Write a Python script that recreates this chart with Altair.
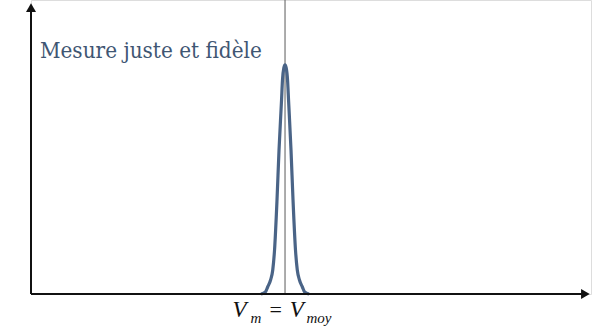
import altair as alt
import pandas as pd

# Distribution of repeated measurements (value, frequency)
curve_x = [41.06, 41.86, 42.26, 42.78, 43.17, 43.49, 43.93, 44.29, 44.74, 44.91, 45.15, 45.36,
           45.57, 45.81, 45.99, 46.43, 46.79, 47.23, 47.55, 47.94, 48.46, 48.86, 49.66]
curve_y = [0.0, 0.68, 2.38, 4.76, 8.16, 14.97, 31.97, 48.98, 65.99, 72.8, 76.9, 77.9,
           76.9, 72.8, 65.99, 48.98, 31.97, 14.97, 8.16, 4.76, 2.38, 0.68, 0.0]

v_mean = 45.36          # true value = mean of the measurements
title_text = "Mesure juste et fidèle"

X = alt.Scale(domain=[0, 100], nice=False, zero=False)
Y = alt.Scale(domain=[0, 100], nice=False, zero=False)

curve_df = pd.DataFrame({"x": curve_x, "y": curve_y})

# axes drawn as arrows
axes_df = pd.DataFrame({"x": [0, 0], "y": [0, 0], "x2": [0, 98.5], "y2": [97.8, 0]})
axes = alt.Chart(axes_df).mark_rule(color="#111111", strokeWidth=2, clip=False).encode(
    x=alt.X("x:Q", scale=X, axis=None), y=alt.Y("y:Q", scale=Y, axis=None),
    x2="x2:Q", y2="y2:Q")

heads_df = pd.DataFrame({"x": [0, 99.0], "y": [97.4, 0], "shape": ["triangle-up", "triangle-right"]})
heads = alt.Chart(heads_df).mark_point(filled=True, color="#111111", size=100, opacity=1, clip=False).encode(
    x=alt.X("x:Q", scale=X, axis=None), y=alt.Y("y:Q", scale=Y, axis=None),
    shape=alt.Shape("shape:N", scale=None))

vline = alt.Chart(pd.DataFrame({"x": [v_mean], "y": [0], "y2": [100]})).mark_rule(
    color="#5a5a5a", strokeWidth=1).encode(
    x=alt.X("x:Q", scale=X, axis=None), y=alt.Y("y:Q", scale=Y, axis=None), y2="y2:Q")

curve = alt.Chart(curve_df).mark_line(color="#4a6487", strokeWidth=3.2, interpolate="monotone",
                                      strokeJoin="round").encode(
    x=alt.X("x:Q", scale=X, axis=None), y=alt.Y("y:Q", scale=Y, axis=None))

title = alt.Chart(pd.DataFrame({"x": [1.6], "y": [80.3], "t": [title_text]})).mark_text(
    align="left", baseline="alphabetic", font="DejaVu Serif Condensed", fontSize=22.3,
    color="#3f5673").encode(
    x=alt.X("x:Q", scale=X, axis=None), y=alt.Y("y:Q", scale=Y, axis=None), text="t:N")

# label "V_m = V_moy" below the axis
lab_df = pd.DataFrame({
    "x": [36.0, 39.2, 42.6, 46.2, 49.2],
    "y": [-7.9, -9.8, -7.9, -7.9, -9.8],
    "t": ["V", "m", "=", "V", "moy"],
    "size": [23, 15, 22, 23, 15],
    "style": ["italic", "italic", "normal", "italic", "italic"],
})
label = alt.Chart(lab_df).mark_text(
    align="left", baseline="alphabetic", font="Liberation Serif", color="#111111", clip=False).encode(
    x=alt.X("x:Q", scale=X, axis=None), y=alt.Y("y:Q", scale=Y, axis=None), text="t:N",
    size=alt.Size("size:Q", scale=None))

label_it = label.transform_filter(alt.datum.style == "italic").mark_text(
    align="left", baseline="alphabetic", font="Liberation Serif", fontStyle="italic",
    color="#111111", clip=False)
label_eq = label.transform_filter(alt.datum.style == "normal")

chart = alt.layer(vline, curve, axes, heads, title, label_it, label_eq).properties(
    width=560, height=294,
    padding={"left": 31, "top": 0, "right": 10, "bottom": 37},
    autosize=alt.AutoSizeParams(type="none"),
).configure_view(stroke=None).configure(background="white")

chart.save("out.html", embed_options={"renderer": "svg", "actions": False})
